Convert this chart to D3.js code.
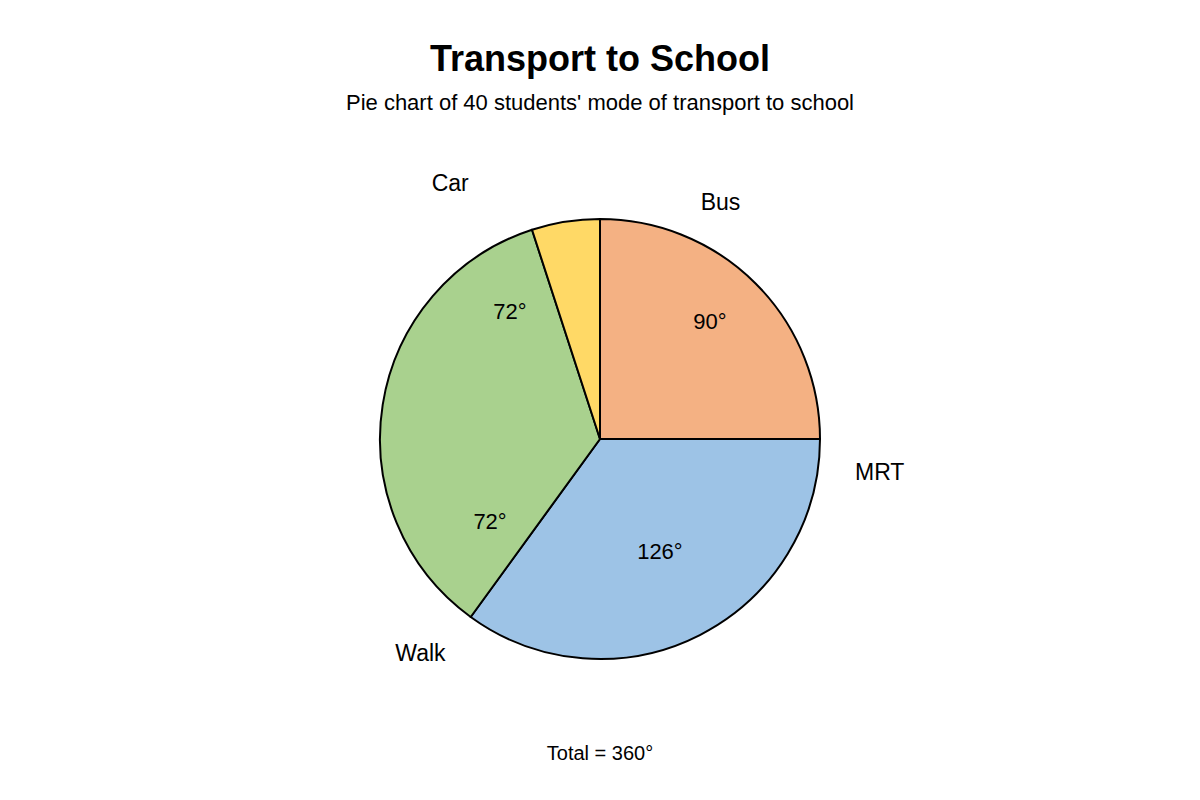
<!DOCTYPE html>
<html>
<head>
<meta charset="utf-8">
<script src="https://cdn.jsdelivr.net/npm/d3@7"></script>
<style>
  html, body { margin: 0; padding: 0; background: #ffffff; }
  svg { display: block; font-family: "Liberation Sans", Arial, sans-serif; }
</style>
</head>
<body>
<svg id="chart" width="1200" height="800"></svg>
<script>
// ---- data ----
const categories = ["Bus", "MRT", "Walk", "Car"];
const students = [10, 14, 14, 2];
const angleLabels = ["90°", "126°", "72°", "72°"];
const colors = ["#F4B183", "#9DC3E6", "#A9D18E", "#FFD966"];

const title = "Transport to School";
const subtitle = "Pie chart of 40 students' mode of transport to school";
const totalText = "Total = 360°";

// ---- layout (label placement in polar terms, relative to pie) ----
const nameLayout = [
  { a: 27, r: 1.207 },
  { a: 96.7, r: 1.28 },
  { a: 220, r: 1.27 },
  { a: 329.7, r: 1.35 }
];
const valueLayout = [
  { a: 43.2, r: 0.73 },
  { a: 152, r: 0.58 },
  { a: 233, r: 0.626 },
  { a: 324.7, r: 0.708 }
];

const W = 1200, H = 800;
const cx = 600, cy = 439, R = 220;
const svg = d3.select("#chart");

svg.append("text")
  .attr("x", W / 2).attr("y", 71)
  .attr("text-anchor", "middle")
  .attr("font-size", 36).attr("font-weight", "bold")
  .attr("fill", "#000")
  .text(title);

svg.append("text")
  .attr("x", W / 2).attr("y", 110)
  .attr("text-anchor", "middle")
  .attr("font-size", 22)
  .attr("fill", "#000")
  .text(subtitle);

const g = svg.append("g").attr("transform", `translate(${cx},${cy})`);

const pie = d3.pie().sort(null).value(d => d.v);
const arcs = pie(categories.map((c, i) => ({ c, v: students[i], i })));
const arc = d3.arc().innerRadius(0).outerRadius(R);

g.selectAll("path.slice")
  .data(arcs)
  .enter().append("path")
  .attr("class", "slice")
  .attr("d", arc)
  .attr("fill", d => colors[d.data.i])
  .attr("stroke", "#000")
  .attr("stroke-width", 2)
  .attr("stroke-linejoin", "round");

const polar = (aDeg, rf) => {
  const a = aDeg * Math.PI / 180;
  return [Math.sin(a) * R * rf, -Math.cos(a) * R * rf];
};

g.selectAll("text.name")
  .data(categories)
  .enter().append("text")
  .attr("class", "name")
  .attr("x", (d, i) => polar(nameLayout[i].a, nameLayout[i].r)[0])
  .attr("y", (d, i) => polar(nameLayout[i].a, nameLayout[i].r)[1])
  .attr("text-anchor", "middle")
  .attr("dominant-baseline", "central")
  .attr("font-size", 23)
  .attr("fill", "#000")
  .text(d => d);

g.selectAll("text.val")
  .data(angleLabels)
  .enter().append("text")
  .attr("class", "val")
  .attr("x", (d, i) => polar(valueLayout[i].a, valueLayout[i].r)[0])
  .attr("y", (d, i) => polar(valueLayout[i].a, valueLayout[i].r)[1])
  .attr("text-anchor", "middle")
  .attr("dominant-baseline", "central")
  .attr("font-size", 22)
  .attr("fill", "#000")
  .text(d => d);

svg.append("text")
  .attr("x", W / 2).attr("y", 753)
  .attr("text-anchor", "middle")
  .attr("dominant-baseline", "central")
  .attr("font-size", 20)
  .attr("fill", "#000")
  .text(totalText);
</script>
</body>
</html>
